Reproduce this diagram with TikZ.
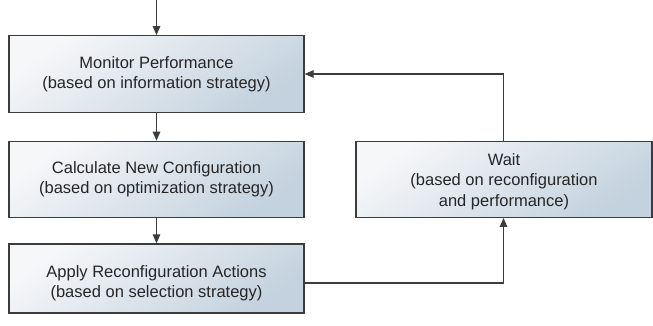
\documentclass[tikz,border=0pt]{standalone}
\usepackage{fontspec}
\setmainfont{Liberation Sans}
\usetikzlibrary{arrows.meta,shadings}
\definecolor{edgegray}{HTML}{3C3C3C}
\definecolor{txtgray}{HTML}{262626}
\definecolor{fillA}{HTML}{F6F7F9}
\definecolor{fillB}{HTML}{C3D2DE}
\tikzset{
  box/.style={draw=edgegray, line width=1.3pt, top color=fillA, bottom color=fillB,
    shading angle=35, inner sep=0pt, minimum width=295pt},
  txt/.style={text=txtgray, align=center, font=\fontsize{16.5pt}{20.5pt}\selectfont, inner sep=0pt},
  conn/.style={draw=edgegray, line width=1.3pt, -{Triangle[length=9pt,width=7.5pt]}}
}
\begin{document}
\begin{tikzpicture}[x=1pt,y=1pt]
\useasboundingbox (0,0) rectangle (653,-325);
\node[box, minimum height=76.5pt] (b1) at (156.5,-74) {};
\node[box, minimum height=76pt] (b2) at (156.5,-179.3) {};
\node[box, minimum height=69pt] (b3) at (156.5,-278.5) {};
\node[box, minimum width=296pt, minimum height=76pt] (w) at (504,-179.3) {};
\node[txt] (t1) at (b1.center) {Monitor Performance\\(based on information strategy)};
\node[txt] (t2) at (b2.center) {Calculate New Configuration\\(based on optimization strategy)};
\node[txt] (t3) at ([yshift=-4.5pt]b3.center) {Apply Reconfiguration Actions\\(based on selection strategy)};
\node[txt] (tw) at ([yshift=-2pt]w.center) {Wait\\(based on reconfiguration\\and performance)};
\coordinate (start) at (156.5,0);
\draw[conn] (start) -- (b1.north);
\draw[conn] (b1.south) -- (b2.north);
\draw[conn] (b2.south) -- (b3.north);
\coordinate (c3) at ([yshift=-4.5pt]b3.east);
\draw[conn] (c3) -| ([xshift=-0.5pt]w.south);
\draw[conn] ([xshift=-0.5pt]w.north) |- (b1.east);
\end{tikzpicture}
\end{document}
